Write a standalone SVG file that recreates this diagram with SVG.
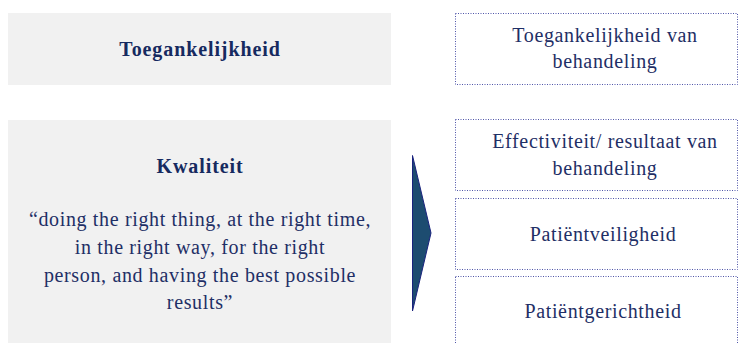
<svg xmlns="http://www.w3.org/2000/svg" width="738" height="343" viewBox="0 0 738 343">
<style>
.grey{fill:#f1f1f1;}
.dot{fill:#fff;stroke:#4f55a8;stroke-width:1;stroke-dasharray:1 1.5;}
text{font-family:"Liberation Serif",serif;fill:#1f2f66;text-anchor:middle;}
.b{font-weight:bold;font-size:20px;letter-spacing:0.9px;fill:#162a60;}
.n{font-size:20px;letter-spacing:0.65px;}
</style>
<rect width="738" height="343" fill="#fff"/>
<g id="toegankelijkheid">
<rect class="grey" x="8" y="13" width="383" height="72"/>
<text class="b" x="200" y="56">Toegankelijkheid</text>
</g>
<g id="kwaliteit">
<rect class="grey" x="8" y="120" width="383" height="223"/>
<text class="b" x="200" y="173">Kwaliteit</text>
<text class="n" x="200" y="226">“doing the right thing, at the right time,</text>
<text class="n" x="200" y="254">in the right way, for the right</text>
<text class="n" x="200" y="282">person, and having the best possible</text>
<text class="n" x="200" y="309">results”</text>
</g>
<g id="connectors">
<polygon points="412.5,155.5 431,233 412.5,311" fill="#1d4c70" stroke="#1a237e" stroke-width="1"/>
</g>
<g id="toegang-behandeling">
<rect class="dot" x="455.5" y="13.5" width="282" height="71"/>
<text class="n" x="605" y="42">Toegankelijkheid van</text>
<text class="n" x="605" y="68">behandeling</text>
</g>
<g id="effectiviteit">
<rect class="dot" x="455.5" y="119.5" width="282" height="71"/>
<text class="n" x="605" y="148">Effectiviteit/ resultaat van</text>
<text class="n" x="605" y="175">behandeling</text>
</g>
<g id="veiligheid">
<rect class="dot" x="455.5" y="198.5" width="282" height="71"/>
<text class="n" x="603" y="241">Patiëntveiligheid</text>
</g>
<g id="gerichtheid">
<rect class="dot" x="455.5" y="276.5" width="282" height="80"/>
<text class="n" x="603" y="318">Patiëntgerichtheid</text>
</g>
</svg>
